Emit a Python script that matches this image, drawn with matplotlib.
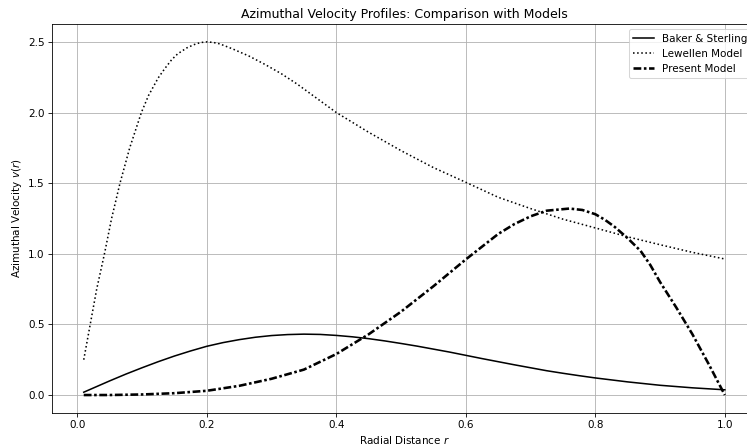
import matplotlib
matplotlib.use("Agg")
import matplotlib.pyplot as plt

# values
r_baker = [0.01, 0.025, 0.05, 0.075, 0.1, 0.125, 0.15, 0.175, 0.2, 0.225, 0.25,
           0.275, 0.3, 0.325, 0.35, 0.375, 0.4, 0.425, 0.45, 0.475, 0.5,
           0.525, 0.55, 0.575, 0.6, 0.625, 0.65, 0.675, 0.7, 0.725, 0.75,
           0.775, 0.8, 0.825, 0.85, 0.875, 0.9, 0.925, 0.95, 0.975, 1.0]
v_baker = [0.02, 0.05, 0.10, 0.148, 0.193, 0.236, 0.276, 0.312, 0.345, 0.371, 0.392,
           0.409, 0.421, 0.428, 0.431, 0.429, 0.422, 0.412, 0.399, 0.383, 0.365,
           0.346, 0.325, 0.304, 0.281, 0.258, 0.236, 0.214, 0.193, 0.172, 0.154,
           0.137, 0.121, 0.107, 0.093, 0.081, 0.069, 0.06, 0.051, 0.044, 0.037]

r_lewellen = [0.01, 0.02, 0.03, 0.042, 0.053, 0.066, 0.081, 0.099, 0.11, 0.125,
              0.135, 0.146, 0.155, 0.169, 0.18, 0.19, 0.2, 0.21, 0.22, 0.24,
              0.265, 0.29, 0.315, 0.34, 0.37, 0.4, 0.45, 0.5, 0.55, 0.6, 0.65,
              0.7, 0.75, 0.8, 0.85, 0.9, 0.95, 1.0]
v_lewellen = [0.25, 0.5, 0.75, 1.0, 1.25, 1.5, 1.75, 2.0, 2.12, 2.245,
              2.31, 2.375, 2.415, 2.457, 2.48, 2.495, 2.5, 2.496, 2.486, 2.45,
              2.40, 2.34, 2.275, 2.20, 2.10, 2.0, 1.86, 1.73, 1.61, 1.506, 1.40,
              1.32, 1.245, 1.183, 1.12, 1.064, 1.01, 0.963]

r_present = [0.01, 0.05, 0.1, 0.15, 0.2, 0.25, 0.3, 0.35, 0.4, 0.45, 0.5,
             0.55, 0.6, 0.625, 0.65, 0.675, 0.7, 0.725, 0.76, 0.78, 0.8, 0.815,
             0.83, 0.85, 0.87, 0.885, 0.9, 0.925, 0.95, 0.975, 1.0]
v_present = [0.0, 0.0, 0.004, 0.013, 0.03, 0.065, 0.115, 0.18, 0.29, 0.43, 0.59,
             0.77, 0.96, 1.05, 1.14, 1.21, 1.265, 1.305, 1.32, 1.31, 1.28, 1.24,
             1.19, 1.11, 1.02, 0.92, 0.80, 0.62, 0.43, 0.22, 0.0]

fig = plt.figure(figsize=(10, 446 / 74.7), dpi=74.7)
ax = fig.add_axes([0.0692, 0.0747, 0.944, 0.871])

ax.plot(r_baker, v_baker, color="black", linestyle="-", linewidth=1.5,
        label="Baker & Sterling")
ax.plot(r_lewellen, v_lewellen, color="black", linestyle=":", linewidth=1.5,
        label="Lewellen Model")
ax.plot(r_present, v_present, color="black", linestyle=(0, (3, 1, 1, 1)),
        linewidth=2.5, label="Present Model")

ax.set_title("Azimuthal Velocity Profiles: Comparison with Models")
ax.set_xlabel("Radial Distance $r$")
ax.set_ylabel("Azimuthal Velocity $v(r)$")
ax.grid(True)
ax.legend(loc="upper right")

fig.savefig("out.png", dpi=74.7)
